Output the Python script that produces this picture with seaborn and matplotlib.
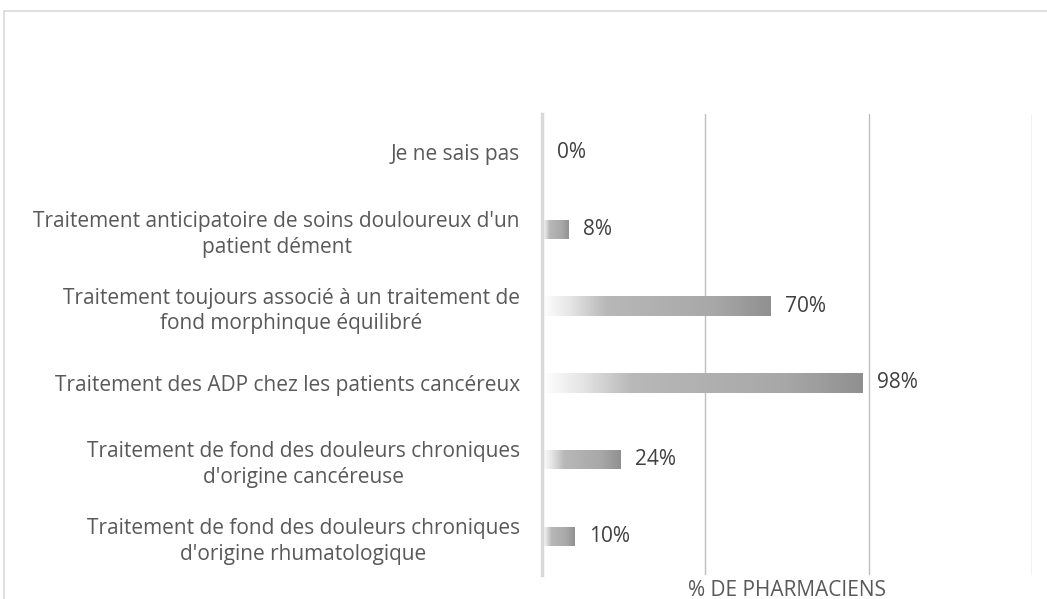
import numpy as np
import matplotlib
matplotlib.use('Agg')
import matplotlib.pyplot as plt
from matplotlib.colors import LinearSegmentedColormap
from matplotlib.patches import Rectangle
import seaborn as sns
import pandas as pd

categories = [
    'Je ne sais pas',
    "Traitement anticipatoire de soins douloureux d'un\npatient dément",
    'Traitement toujours associé à un traitement de\nfond morphinque équilibré',
    'Traitement des ADP chez les patients cancéreux',
    'Traitement de fond des douleurs chroniques\nd\'origine cancéreuse',
    'Traitement de fond des douleurs chroniques\nd\'origine rhumatologique',
]
values = [0, 8, 70, 98, 24, 10]
value_labels = ['0%', '8%', '70%', '98%', '24%', '10%']
x_ticks = [0, 50, 100, 150]

df = pd.DataFrame({'cat': categories, 'pct': values})

sns.set_style('white')
plt.rcParams['font.family'] = ['Open Sans', 'DejaVu Sans']
text_color = '#595959'
fs = 15

fig = plt.figure(figsize=(10.47, 5.99), dpi=100)
ax = fig.add_axes([542 / 1047, 24 / 599, 490 / 1047, 461 / 599])

# light frame round the chart area
fig.patches.append(Rectangle((4 / 1047, -0.1), 1.2, 0.1 + (599 - 11) / 599,
                             transform=fig.transFigure, fill=False,
                             edgecolor='#d9d9d9', linewidth=1.2))

sns.barplot(data=df, y='cat', x='pct', order=categories, orient='h',
            width=0.25, color='#a0a0a0', ax=ax)

# gradient fill on each bar
cmap = LinearSegmentedColormap.from_list(
    'grad', [(0, '#ffffff'), (0.12, '#e6e6e6'), (0.28, '#b8b8b8'),
             (0.75, '#a8a8a8'), (1.0, '#909090')])
grad = np.linspace(0, 1, 256).reshape(1, -1)
for p in ax.patches:
    x0, y0 = p.get_x(), p.get_y()
    w, h = p.get_width(), p.get_height()
    if w <= 0:
        continue
    p.set_facecolor('none')
    p.set_edgecolor('none')
    im = ax.imshow(grad, cmap=cmap, aspect='auto', zorder=3,
                   extent=(x0, x0 + w, y0 + h, y0), interpolation='bicubic')
    im.set_clip_path(p)

for i, (v, lab) in enumerate(zip(values, value_labels)):
    ax.text(v + 4.5, i, lab, va='center', ha='left', fontsize=fs,
            color='#404040')

ax.set_xlim(0, 150)
ax.set_ylim(len(categories) - 0.5, -0.5)
ax.set_xticks(x_ticks)
ax.set_xticklabels([])
ax.grid(axis='x', color='#bfbfbf', linewidth=1)
ax.set_axisbelow(True)
for s in ['top', 'right', 'bottom']:
    ax.spines[s].set_visible(False)
ax.spines['left'].set_color('#d9d9d9')
ax.spines['left'].set_linewidth(2.5)
ax.spines['left'].set_zorder(4)
ax.tick_params(axis='both', length=0)
ax.tick_params(axis='y', pad=16)
ax.set_yticks(range(len(categories)))
ax.set_yticklabels(categories, fontsize=fs, color=text_color,
                   multialignment='center', linespacing=1.3)
ax.set_ylabel('')
ax.set_xlabel('% DE PHARMACIENS', fontsize=fs, color=text_color, labelpad=0)

fig.savefig('out.png', dpi=100)
